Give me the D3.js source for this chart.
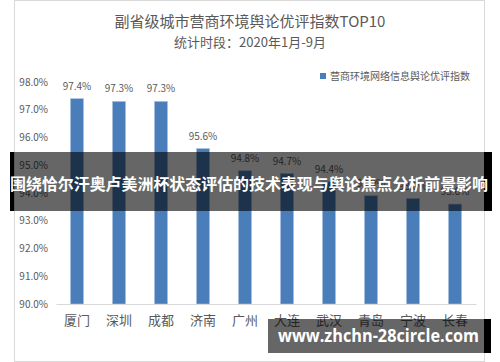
<!DOCTYPE html>
<html>
<head>
<meta charset="utf-8">
<script src="https://cdn.jsdelivr.net/npm/d3@7"></script>
<style>
  html, body { margin: 0; padding: 0; background: #fff; }
  svg { display: block; }
</style>
</head>
<body>
<div id="chart"></div>
<script>
// -------------------- DATA --------------------
const cities = ["厦门", "深圳", "成都", "济南", "广州", "大连", "武汉", "青岛", "宁波", "长春"];
const values = [97.4, 97.3, 97.3, 95.6, 94.8, 94.7, 94.4, 93.9, 93.8, 93.6];
const yTicks = [90, 91, 92, 93, 94, 95, 96, 97, 98];
const title = "副省级城市营商环境舆论优评指数TOP10";
const subtitle = "统计时段：2020年1月-9月";
const seriesName = "营商环境网络信息舆论优评指数";
const bannerText = "围绕恰尔汗奥卢美洲杯状态评估的技术表现与舆论焦点分析前景影响";
const watermark = "www.zhchn-28circle.com";

// -------------------- VISUALIZATION --------------------
const width = 500, height = 362;
const fontFamily = "'Noto Sans CJK SC', 'Noto Sans', sans-serif";
const textColor = "#595959";
const barColor = "#4a7ebb";

const svg = d3.select("#chart")
    .append("svg")
    .attr("width", width)
    .attr("height", height)
    .attr("font-family", fontFamily);

// chart frame
svg.append("rect")
    .attr("x", 14.5).attr("y", 0.5)
    .attr("width", 470).attr("height", 361)
    .attr("fill", "#fff")
    .attr("stroke", "#d9d9d9");

let margin = ({ top: 82, right: 24, bottom: 58, left: 56 });

let x = d3.scaleBand()
    .domain(cities)
    .range([margin.left, width - margin.right])
    .paddingInner(0.69)
    .paddingOuter(0.345);
let y = d3.scaleLinear()
    .domain([90, 98])
    .range([height - margin.bottom, margin.top]);

let data = cities.map((c, i) => ({ name: c, value: values[i] }));

// titles
svg.append("text")
    .attr("x", 250).attr("y", 27)
    .attr("text-anchor", "middle")
    .attr("font-size", 15)
    .attr("fill", textColor)
    .text(title);
svg.append("text")
    .attr("x", 250).attr("y", 46.5)
    .attr("text-anchor", "middle")
    .attr("font-size", 13)
    .attr("fill", textColor)
    .text(subtitle);

// legend
svg.append("rect")
    .attr("x", 320).attr("y", 73)
    .attr("width", 6).attr("height", 6)
    .attr("fill", barColor);
svg.append("text")
    .attr("x", 330).attr("y", 79.5)
    .attr("font-size", 10)
    .attr("fill", textColor)
    .text(seriesName);

// bars
svg.append("g")
    .selectAll("rect")
    .data(data)
    .join("rect")
    .attr("fill", barColor)
    .attr("stroke", "#a9c2e2")
    .attr("stroke-width", 0.6)
    .attr("x", d => x(d.name))
    .attr("y", d => y(d.value))
    .attr("width", x.bandwidth())
    .attr("height", d => y(90) - y(d.value));

// value labels
svg.append("g")
    .attr("font-size", 10)
    .attr("fill", textColor)
    .attr("text-anchor", "middle")
    .selectAll("text")
    .data(data)
    .join("text")
    .attr("x", d => x(d.name) + x.bandwidth() / 2)
    .attr("y", d => y(d.value) - 9)
    .text(d => d.value.toFixed(1) + "%");

// axes
let yAxis = g => g
    .attr("transform", `translate(48,0)`)
    .call(d3.axisLeft(y).tickValues(yTicks).tickFormat(d => d.toFixed(1) + "%").tickSize(0).tickPadding(0))
    .call(g => g.select(".domain").remove());

let xAxis = g => g
    .attr("transform", `translate(0,${y(90)})`)
    .call(d3.axisBottom(x).tickSize(0).tickPadding(12))
    .call(g => g.select(".domain").attr("stroke", "#d9d9d9"));

svg.append("g")
    .call(yAxis)
    .call(g => g.selectAll("text")
        .attr("font-family", fontFamily)
        .attr("font-size", 10)
        .attr("fill", textColor));

svg.append("g")
    .call(xAxis)
    .call(g => g.selectAll("text")
        .attr("font-family", fontFamily)
        .attr("font-size", 13)
        .attr("fill", textColor));

// overlay banner
svg.append("rect")
    .attr("x", 14).attr("y", 152)
    .attr("width", 470).attr("height", 59)
    .attr("fill", "rgba(0,0,0,0.6)");
svg.append("rect")
    .attr("x", 10).attr("y", 152)
    .attr("width", 4).attr("height", 59)
    .attr("fill", "#000");
svg.append("rect")
    .attr("x", 484).attr("y", 152)
    .attr("width", 8).attr("height", 59)
    .attr("fill", "#000");
svg.append("text")
    .attr("x", 10).attr("y", 190)
    .attr("font-size", 15.5)
    .attr("font-weight", "bold")
    .attr("fill", "#fff")
    .attr("textLength", 478)
    .attr("lengthAdjust", "spacingAndGlyphs")
    .text(bannerText);

// watermark
svg.append("rect")
    .attr("x", 268).attr("y", 319)
    .attr("width", 216).attr("height", 34)
    .attr("fill", "rgba(0,0,0,0.6)");
svg.append("rect")
    .attr("x", 484).attr("y", 319)
    .attr("width", 7).attr("height", 34)
    .attr("fill", "#000");
svg.append("text")
    .attr("x", 278).attr("y", 342)
    .attr("font-family", "'Open Sans', sans-serif")
    .attr("font-size", 17)
    .attr("font-weight", "bold")
    .attr("fill", "#fff")
    .attr("textLength", 201)
    .attr("lengthAdjust", "spacingAndGlyphs")
    .text(watermark);
</script>
</body>
</html>
